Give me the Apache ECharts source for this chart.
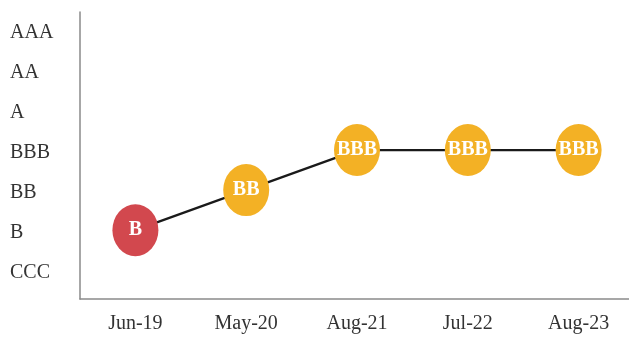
<!DOCTYPE html>
<html><head><meta charset="utf-8">
<script src="https://cdn.jsdelivr.net/npm/echarts@6/dist/echarts.min.js"></script>
<style>html,body{margin:0;padding:0;background:#fff}#c{width:629px;height:338px}</style>
</head><body><div id="c"></div>
<script>
const ratings = ['CCC','B','BB','BBB','A','AA','AAA'];
const dates = ['Jun-19','May-20','Aug-21','Jul-22','Aug-23'];
const ratingSeries = ['B','BB','BBB','BBB','BBB'];
const colorsByRating = {B:'#d2484e', BB:'#f3b125', BBB:'#f3b125'};

const chart = echarts.init(document.getElementById('c'), null, {renderer:'canvas'});
const serif = '"Liberation Serif","DejaVu Serif",serif';
chart.setOption({
  animation:false,
  grid:{left:80, width:554, top:12, bottom:39, outerBoundsMode:'none', containLabel:false},
  xAxis:{type:'category', data:dates, boundaryGap:true,
    axisLine:{onZero:false, lineStyle:{color:'#8a8a8a', width:1.5}},
    axisTick:{show:false},
    axisLabel:{color:'#333', fontFamily:serif, fontSize:20, margin:15}},
  yAxis:{type:'value', min:-0.72, max:6.45,
    splitLine:{show:false},
    axisLine:{show:true, lineStyle:{color:'#8a8a8a', width:1.5}},
    axisTick:{show:false},
    axisLabel:{customValues:[0,1,2,3,4,5,6], formatter:v=>ratings[Math.round(v)],
      color:'#333', fontFamily:serif, fontSize:20, align:'left', margin:70, lineHeight:24, verticalAlign:'top', padding:[-9,0,0,0]}},
  series:[{type:'line',
    data: ratingSeries.map((r,i)=>({value:ratings.indexOf(r), itemStyle:{color:colorsByRating[r]}, label:{formatter:r}})),
    lineStyle:{color:'#1a1a1a', width:2.2},
    symbol:'circle', symbolSize:[46,52],
    label:{show:true, position:'inside', color:'#fff', fontFamily:serif, fontSize:20, fontWeight:'bold'},
    z:3}]
});
</script></body></html>
